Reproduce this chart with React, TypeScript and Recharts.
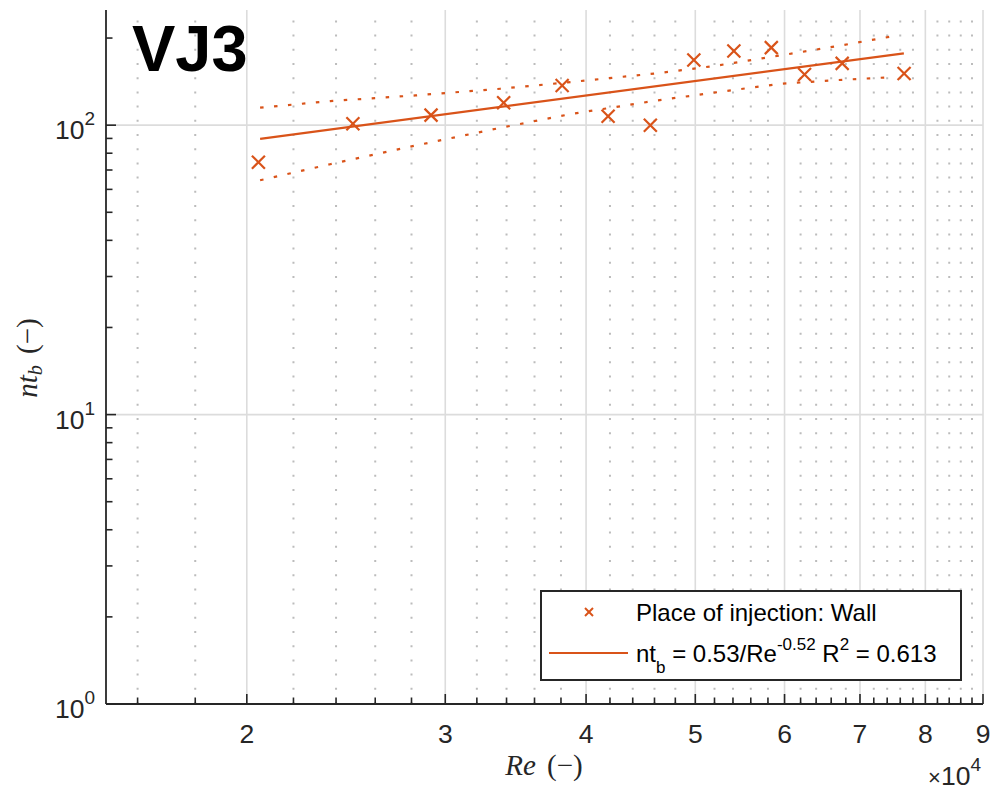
import { ComposedChart, Line, ReferenceLine, Scatter, XAxis, YAxis } from "recharts";

const ORANGE = "#D95319";
const INK = "#262626";
const GRID = "#dcdcdc";
const GRID_MINOR = "#bcbcbc";
const SANS = '"Liberation Sans", Arial, Helvetica, sans-serif';
const SERIF = '"Liberation Serif", "DejaVu Serif", serif';

// measured points (Re, nt_b)
const RE = [20480, 24840, 29140, 33800, 38090, 41840, 45610, 49850, 54100, 58400, 62500, 67500, 76600];
const NTB = [74.5, 101.1, 108.3, 119.5, 137.2, 107.4, 100, 167.9, 180.3, 185.3, 149.7, 163.5, 150.9];

// power-law fit, end points
const FIT_RE = [20550, 76560];
const FIT_NTB = [89.7, 177.1];

// dotted bounds
const BAND_RE = [20550, 23710, 28220, 33570, 38740, 46100, 51900, 59500, 66900, 75000];
const UPPER = [114.9, 121.1, 126.7, 133.6, 140.9, 150.9, 160.0, 174.2, 187.7, 203.2];
const LOWER = [64.5, 73.3, 85.0, 97.9, 109.2, 121.5, 129.5, 139.0, 143.2, 146.6];

const X_MAJOR = [20000, 30000, 40000, 50000, 60000, 70000, 80000, 90000];
const X_MINOR = [
  16000, 18000, 22000, 24000, 26000, 28000, 32000, 34000, 36000, 38000, 42000, 44000, 46000, 48000,
  52000, 54000, 56000, 58000, 62000, 64000, 66000, 68000, 72000, 74000, 76000, 78000, 82000, 84000,
  86000, 88000,
];
const Y_MAJOR = [1, 10, 100];
const Y_MINOR = [2, 3, 4, 5, 6, 7, 8, 9, 20, 30, 40, 50, 60, 70, 80, 90, 200];

const points = RE.map((x, i) => ({ x, y: NTB[i] }));
const fit = FIT_RE.map((x, i) => ({ x, y: FIT_NTB[i] }));
const upper = BAND_RE.map((x, i) => ({ x, y: UPPER[i] }));
const lower = BAND_RE.map((x, i) => ({ x, y: LOWER[i] }));

const xTicks = [...X_MINOR, ...X_MAJOR].sort((a, b) => a - b);
const yTicks = [...Y_MINOR, ...Y_MAJOR].sort((a, b) => a - b);

function XTick({ x, y, payload }: any) {
  const v = payload.value;
  const major = X_MAJOR.includes(v);
  return (
    <g>
      <line x1={x} x2={x} y1={y} y2={y - (major ? 10 : 6.5)} stroke={INK} strokeWidth={1.6} />
      {major && (
        <text x={x} y={y + 39} textAnchor="middle" fontFamily={SANS} fontSize={26.5} fill={INK}>
          {v / 1e4}
        </text>
      )}
    </g>
  );
}

function YTick({ x, y, payload }: any) {
  const v = payload.value;
  const major = Y_MAJOR.includes(v);
  return (
    <g>
      <line x1={x} x2={x + (major ? 10 : 6.5)} y1={y} y2={y} stroke={INK} strokeWidth={1.6} />
      {major && (
        <text x={x - 11} y={y + 14} textAnchor="end" fontFamily={SANS} fontSize={26.5} fill={INK}>
          <tspan>10</tspan>
          <tspan dy={-14} fontSize={19}>
            {Math.round(Math.log10(v))}
          </tspan>
        </text>
      )}
    </g>
  );
}

function Cross({ cx, cy }: any) {
  const r = 6.5;
  return (
    <g stroke={ORANGE} strokeWidth={2.2}>
      <line x1={cx - r} y1={cy - r} x2={cx + r} y2={cy + r} />
      <line x1={cx - r} y1={cy + r} x2={cx + r} y2={cy - r} />
    </g>
  );
}

export default function App() {
  return (
    <div style={{ position: "absolute", left: 0, top: 0, width: 994, height: 791, background: "#fff" }}>
      <ComposedChart width={994} height={791} margin={{ top: 10, right: 11, bottom: 7, left: 10 }}>
        <XAxis
          dataKey="x"
          type="number"
          scale="log"
          domain={[15000, 90000]}
          allowDataOverflow
          ticks={xTicks}
          interval={0}
          height={80}
          tick={<XTick />}
          tickLine={false}
          tickSize={0}
          tickMargin={0}
          axisLine={{ stroke: INK, strokeWidth: 1.8 }}
        />
        <YAxis
          type="number"
          scale="log"
          domain={[1, 250]}
          allowDataOverflow
          ticks={yTicks}
          interval={0}
          width={96}
          tick={<YTick />}
          tickLine={false}
          tickSize={0}
          tickMargin={0}
          axisLine={{ stroke: INK, strokeWidth: 1.8 }}
        />
        {X_MINOR.map((v) => (
          <ReferenceLine key={"m" + v} x={v} stroke={GRID_MINOR} strokeWidth={2} strokeDasharray="2 12.2" />
        ))}
        {X_MAJOR.map((v) => (
          <ReferenceLine key={"M" + v} x={v} stroke={GRID} strokeWidth={1.6} />
        ))}
        {[10, 100].map((v) => (
          <ReferenceLine key={"h" + v} y={v} stroke={GRID} strokeWidth={1.6} />
        ))}
        <Line data={upper} dataKey="y" stroke={ORANGE} strokeWidth={2.2} strokeDasharray="3.5 10.5" dot={false} isAnimationActive={false} />
        <Line data={lower} dataKey="y" stroke={ORANGE} strokeWidth={2.2} strokeDasharray="3.5 10.5" dot={false} isAnimationActive={false} />
        <Line data={fit} dataKey="y" stroke={ORANGE} strokeWidth={2.2} dot={false} isAnimationActive={false} />
        <Scatter data={points} dataKey="y" shape={<Cross />} isAnimationActive={false} />
      </ComposedChart>

      <svg width={994} height={791} style={{ position: "absolute", left: 0, top: 0, pointerEvents: "none" }}>
        <text x={132} y={71} fontFamily={SANS} fontWeight="bold" fontSize={65} fill="#000">
          VJ3
        </text>

        <text x={544} y={775} textAnchor="middle" fontFamily={SERIF} fontSize={29} fill={INK}>
          <tspan fontStyle="italic">Re</tspan>
          <tspan dx={4}> (−)</tspan>
        </text>
        <text transform="translate(37,358) rotate(-90)" textAnchor="middle" fontFamily={SERIF} fontSize={29} fill={INK}>
          <tspan fontStyle="italic">nt</tspan>
          <tspan fontStyle="italic" fontSize={20} dy={5}>
            b
          </tspan>
          <tspan dy={-5} dx={4}> (−)</tspan>
        </text>
        <text x={981} y={785} textAnchor="end" fontFamily={SANS} fontSize={26.5} fill={INK}>
          <tspan fontSize={22}>×</tspan>
          <tspan>10</tspan>
          <tspan dy={-14} fontSize={19}>
            4
          </tspan>
        </text>

        <rect x={541} y={591} width={420} height={89} fill="#fff" stroke={INK} strokeWidth={2} />
        <g stroke={ORANGE} strokeWidth={2}>
          <line x1={585} y1={608} x2={593} y2={616} />
          <line x1={585} y1={616} x2={593} y2={608} />
        </g>
        <text x={636} y={621} fontFamily={SANS} fontSize={24} fill="#000">
          Place of injection: Wall
        </text>
        <line x1={549} y1={653} x2={628} y2={653} stroke={ORANGE} strokeWidth={2} />
        <text x={636} y={662} fontFamily={SANS} fontSize={24} fill="#000">
          <tspan>nt</tspan>
          <tspan fontSize={17} dy={11}>
            b
          </tspan>
          <tspan dy={-11}> = 0.53/Re</tspan>
          <tspan fontSize={17} dy={-12}>
            -0.52
          </tspan>
          <tspan dy={12}> R</tspan>
          <tspan fontSize={17} dy={-12}>
            2
          </tspan>
          <tspan dy={12}> = 0.613</tspan>
        </text>
      </svg>
    </div>
  );
}
